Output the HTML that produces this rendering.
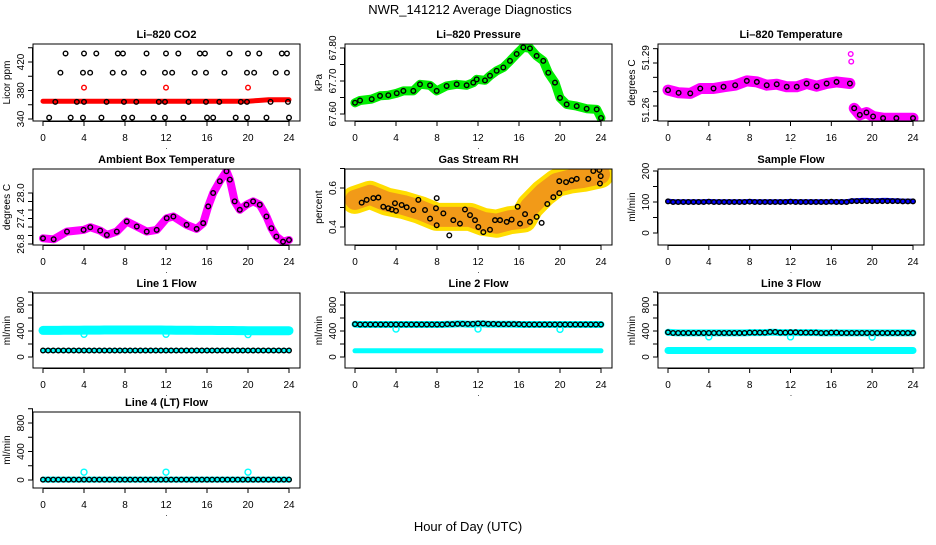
<!DOCTYPE html>
<html><head><meta charset="utf-8"><style>
html,body{margin:0;padding:0;background:#fff}
svg text{font-family:"Liberation Sans",Arial,sans-serif}
</style></head><body>
<svg id="chart" width="936" height="540" viewBox="0 0 936 540" xmlns="http://www.w3.org/2000/svg"></svg>
<script>
// ---- data ----
const hourTicks=[0,4,8,12,16,20,24];
// CO2
const co2BlackHours=[2.2,4.0,5.2,7.3,7.8,10.1,12.0,13.2,15.3,15.8,18.2,20.0,21.1,23.3,23.8, 1.7,3.9,4.6,6.8,7.9,9.8,11.9,12.6,14.8,15.9,17.7,19.9,20.6,22.7,23.8, 1.2,3.3,4.0,6.2,7.9,9.1,11.3,11.9,14.2,15.9,17.2,19.3,19.9,22.2,23.9, 0.6,2.7,3.9,5.7,7.9,8.7,10.8,11.9,13.7,16.0,16.6,18.8,19.9,21.8,24.0];
const co2BlackValues=[432,432,432,432,432,432,432,432,432,432,432,432,432,432,432, 405,405,405,405,405,405,405,405,405,405,405,405,405,405,405, 364,364,364,364,364,364,364,364,364,364,364,364,364,364,364, 342,342,342,342,342,342,342,342,342,342,342,342,342,342,342];
const co2RedHours=[0,4,8,12,16,20,21,22,23,24];
const co2RedValues=[365,365,365,365,365,365,366,367,367,367];
const co2OutHours=[4,12,20];
const co2OutValues=[384,384,384];
// Pressure
const presHours=[0,0.49,1.63,2.44,3.25,4.07,4.72,5.69,6.34,7.32,7.97,8.94,9.92,10.89,11.54,11.87,12.68,13.17,13.82,14.47,15.12,15.77,16.42,17.07,17.72,18.37,18.86,19.51,20.0,20.65,21.63,22.6,23.58,24];
const presValues=[67.634,67.641,67.645,67.655,67.657,67.663,67.670,67.670,67.690,67.687,67.670,67.685,67.690,67.687,67.695,67.705,67.702,67.716,67.731,67.741,67.761,67.782,67.802,67.799,67.776,67.761,67.725,67.695,67.649,67.629,67.624,67.616,67.614,67.588];
// Li-820 temperature
const ltHours=[0,1.04,2.18,3.16,4.46,5.44,6.58,7.72,8.7,9.67,10.65,11.63,12.61,13.58,14.56,15.54,16.51,17.82,null,18.24,18.79,19.44,20.09,21.07,22.37,24];
const ltValues=[51.2711,51.2692,51.2688,51.2722,51.2722,51.2734,51.2745,51.2775,51.2768,51.2745,51.2752,51.2734,51.2734,51.2757,51.2738,51.2757,51.2768,51.2757,null,51.2584,51.2538,51.2555,51.2527,51.2515,51.2515,51.2515];
const ltOutHours=[17.9,17.95];
const ltOutValues=[51.2963,51.2910];
// Ambient box temperature
const ambHours=[0,1.04,2.34,3.96,4.61,5.58,6.23,7.2,8.17,9.15,10.12,11.09,12.07,12.72,14.01,14.99,15.63,16.12,16.6,17.25,17.9,18.23,18.7,19.2,19.85,20.5,21.15,21.8,22.28,22.77,23.42,24];
const ambValues=[26.934,26.911,27.092,27.132,27.195,27.116,27.013,27.092,27.329,27.211,27.092,27.132,27.408,27.447,27.250,27.155,27.290,27.684,28.0,28.276,28.513,28.316,27.803,27.605,27.724,27.803,27.724,27.447,27.171,26.974,26.855,26.895];
// Gas stream RH
const rhHours=[0,1.46,3.09,4.72,6.34,7.97,9.59,11.22,12.52,13.82,15.12,16.42,17.07,18.37,19.67,20.98,22.28,23.9];
const rhValues=[0.539,0.565,0.530,0.513,0.487,0.452,0.452,0.452,0.426,0.417,0.435,0.443,0.504,0.574,0.626,0.643,0.652,0.670];
const rhPtHours=[0.65,1.14,1.79,2.28,2.76,3.25,3.58,3.9,4.0,4.55,5.04,5.69,6.18,6.83,7.32,7.9,7.97,7.97,8.62,9.2,9.59,10.24,10.73,11.22,11.71,12.03,12.52,13.17,13.66,14.15,14.8,15.28,15.87,16.1,16.59,17.07,17.72,18.21,18.76,19.35,19.93,19.93,20.59,21.14,21.63,22.76,23.25,23.84,23.97,23.9];
const rhPtValues=[0.525,0.539,0.548,0.551,0.504,0.496,0.490,0.522,0.483,0.513,0.501,0.487,0.539,0.487,0.443,0.496,0.409,0.548,0.470,0.357,0.435,0.417,0.490,0.461,0.435,0.400,0.374,0.386,0.435,0.435,0.426,0.438,0.504,0.417,0.466,0.426,0.452,0.421,0.518,0.553,0.574,0.635,0.630,0.640,0.647,0.647,0.687,0.692,0.661,0.623];
// flows (half-hourly)
const sampleBlue=[103,101,101,101,101,101,101,101,102,101,101,101,101,101,101,101,102,101,101,101,101,101,101,101,102,101,101,101,101,101,101,101,101,101,101,101,104,104,105,105,104,104,105,105,104,104,103,103,103];
const sampleBlack=[102,100,100,100,100,100,100,100,101,100,100,100,100,100,100,100,101,100,100,100,100,100,100,100,101,100,100,100,100,100,100,100,101,100,100,100,103,103,103,103,103,103,103,103,103,103,102,102,102];
const l1Upper=[410,410,410,410,412,412,412,412,414,414,414,414,415,415,415,415,416,416,416,416,416,416,415,415,414,414,412,412,411,411,410,410,410,410,408,408,407,407,406,406,405,405,405,405,405,405,405,405,405];
const l1Lower=[100,100,100,100,100,100,100,100,100,100,100,100,100,100,100,100,100,100,100,100,100,100,100,100,100,100,100,100,100,100,100,100,100,100,100,100,100,100,100,100,100,100,100,100,100,100,100,100,100];
const l1Black=[100,100,100,100,100,100,100,100,100,100,100,100,100,100,100,100,100,100,100,100,100,100,100,100,100,100,100,100,100,100,100,100,100,100,100,100,100,100,100,100,100,100,100,100,100,100,100,100,100];
const l1OutHours=[4,12,20];
const l1OutValues=[350,350,345];
const l2Upper=[505,500,500,500,500,500,500,500,500,500,500,500,500,500,500,500,500,500,505,505,510,510,505,505,510,510,505,505,505,505,505,505,500,500,500,500,500,500,500,500,500,500,500,500,500,500,500,500,500];
const l2Black=[505,500,500,500,500,500,500,500,500,500,500,500,500,500,500,500,500,500,505,505,510,510,510,510,515,515,510,510,505,505,505,505,505,500,500,500,500,500,500,500,500,500,500,500,500,500,500,500,500];
const l2Lower=[95,95,95,95,95,95,95,95,95,95,95,95,95,95,95,95,95,95,95,95,95,95,95,95,95,95,95,95,95,95,95,95,95,95,95,95,95,95,95,95,95,95,95,95,95,95,95,95,95];
const l2OutHours=[4,12,20];
const l2OutValues=[430,430,425];
const l3Upper=[380,375,370,370,370,370,370,370,370,370,370,370,370,370,370,370,375,375,375,375,380,380,375,375,375,375,375,375,375,375,370,370,370,370,370,370,370,370,370,370,370,370,370,370,370,370,370,370,370];
const l3Black=[380,370,370,370,370,370,370,370,370,370,370,370,370,370,370,370,375,375,375,375,385,385,375,375,380,380,375,375,375,375,370,370,375,375,370,370,370,370,370,370,370,370,370,370,370,370,370,370,370];
const l3Lower=[100,100,100,100,100,100,100,100,100,100,100,100,100,100,100,100,100,100,100,100,100,100,100,100,100,100,100,100,100,100,100,100,100,100,100,100,100,100,100,100,100,100,100,100,100,100,100,100,100];
const l3OutHours=[4,12,20];
const l3OutValues=[310,310,305];
const l4Black=[5,5,5,5,5,5,5,5,5,5,5,5,5,5,5,5,5,5,5,5,5,5,5,5,5,5,5,5,5,5,5,5,5,5,5,5,5,5,5,5,5,5,5,5,5,5,5,5,5];
const l4OutHours=[4,12,20];
const l4OutValues=[110,110,110];

// ---- rendering ----
const NS="http://www.w3.org/2000/svg";
const svg=document.getElementById('chart');
function mk(tag,attrs,parent){const e=document.createElementNS(NS,tag);for(const k in attrs)e.setAttribute(k,attrs[k]);(parent||svg).appendChild(e);return e;}
const cols=[[33,300],[345,612],[658,924]];
const rows=[[44,121],[169,245],[293,368],[412,488]];
function panel(name,title,ci,ri,v1,p1,v2,p2,ticks,labels,labelPos,ylab){
  const [x0,x1]=cols[ci],[y0,y1]=rows[ri];
  const g=mk('g',{});
  
  
  const P={g,x0,x1,y0,y1,
    x:h=>x0+10+h*(x1-x0-21)/24,
    y:v=>p1+(v-v1)*(p2-p1)/(v2-v1)};
  const clip='c'+name;
  const cp=mk('clipPath',{id:clip},g);mk('rect',{x:x0,y:y0,width:x1-x0,height:y1-y0},cp);
  P.d=mk('g',{'clip-path':'url(#'+clip+')'},g);
  const box=mk('rect',{x:x0,y:y0,width:x1-x0,height:y1-y0,fill:'none',stroke:'#000','stroke-width':1},g);
  
  
  const t=mk('text',{x:(x0+x1)/2,y:y0-6,'text-anchor':'middle','font-size':'11','font-weight':'bold'},g);t.textContent=title;
  
  
  // x axis
  const xa=mk('g',{},g);
  
  
  mk('line',{x1:P.x(0),x2:P.x(24),y1:y1+0.5,y2:y1+0.5,stroke:'#000'},xa);
  hourTicks.forEach(h=>{mk('line',{x1:P.x(h),x2:P.x(h),y1:y1,y2:y1+5,stroke:'#000'},xa);
    const tl=mk('text',{x:P.x(h),y:y1+20,'text-anchor':'middle','font-size':'10'},xa);tl.textContent=h;});
  const dot=mk('text',{x:(x0+x1)/2,y:y1+28,'text-anchor':'middle','font-size':'8'},xa);dot.textContent='.';
  // y axis
  const ya=mk('g',{},g);
  
  
  mk('line',{x1:x0-0.5,x2:x0-0.5,y1:P.y(ticks[0]),y2:P.y(ticks[ticks.length-1]),stroke:'#000'},ya);
  ticks.forEach(v=>mk('line',{x1:x0-5,x2:x0,y1:P.y(v),y2:P.y(v),stroke:'#000'},ya));
  labels.forEach((s,i)=>{const yy=P.y(labelPos[i]);const tl=mk('text',{x:x0-9,y:yy,'text-anchor':'middle','font-size':'10',transform:`rotate(-90 ${x0-9} ${yy})`},ya);tl.textContent=s;});
  const yc=(y0+y1)/2;
  const yl=mk('text',{x:x0-23,y:yc,'text-anchor':'middle','font-size':'10',transform:`rotate(-90 ${x0-23} ${yc})`},ya);yl.textContent=ylab;
  
  
  return P;
}
function band(P,hs,vs,color,w,name){
  let d='',pen=false;
  for(let i=0;i<vs.length;i++){const h=hs?hs[i]:i*0.5,v=vs[i];
    if(v===null||h===null){pen=false;continue;}
    d+=(pen?'L':'M')+P.x(h).toFixed(1)+' '+P.y(v).toFixed(1);pen=true;}
  const p=mk('path',{d,fill:'none',stroke:color,'stroke-width':w,'stroke-linecap':'round','stroke-linejoin':'round'},P.d);
  
  
}
function pts(P,hs,vs,color,name,r){
  const g=mk('g',{},P.d);
  
  
  for(let i=0;i<vs.length;i++){const h=hs?hs[i]:i*0.5,v=vs[i];if(v===null||h===null)continue;
    mk('circle',{cx:P.x(h),cy:P.y(v),r:r||2.3,fill:'none',stroke:color,'stroke-width':1.4},g);}
}
// CO2
let P=panel('co2-panel','Li\u2013820 CO2',0,0,340,119,420,62,[340,360,380,400,420,440],['340','380','420'],[340,380,420],'Licor ppm');
band(P,co2RedHours,co2RedValues,'#ff0000',5,'co2-red-series');
pts(P,co2OutHours,co2OutValues,'#ff0000','co2-red-outliers');
pts(P,co2BlackHours,co2BlackValues,'#000','co2-black-points');
// Pressure
P=panel('pressure-panel','Li\u2013820 Pressure',1,0,67.60,114,67.80,48,[67.60,67.65,67.70,67.75,67.80],['67.60','67.70','67.80'],[67.60,67.70,67.80],'kPa');
band(P,presHours,presValues,'#00ee00',9,'pressure-green-series');
pts(P,presHours,presValues,'#000','pressure-black-points');
// Li temp
P=panel('li-temp-panel','Li\u2013820 Temperature',2,0,51.26,106,51.29,63,[51.25,51.26,51.27,51.28,51.29,51.30],['51.26','51.29'],[51.2572,51.2937],'degrees C');
band(P,ltHours,ltValues,'#ff00ff',11,'li-temp-pink-series');
pts(P,ltOutHours,ltOutValues,'#ff00ff','li-temp-outliers');
pts(P,ltHours,ltValues,'#000','li-temp-black-points');
// Ambient
P=panel('ambient-panel','Ambient Box Temperature',0,1,26.8,244,28.0,193,[26.8,27.0,27.2,27.4,27.6,27.8,28.0],['26.8','27.4','28.0'],[26.8,27.4,28.0],'degrees C');
band(P,ambHours,ambValues,'#ff00ff',8,'ambient-pink-series');
pts(P,ambHours,ambValues,'#000','ambient-black-points');
// RH
P=panel('rh-panel','Gas Stream RH',1,1,0.4,227,0.6,188,[0.4,0.5,0.6,0.7],['0.4','0.6'],[0.4,0.6],'percent');
band(P,rhHours,rhValues,'#ffdd00',28,'rh-yellow-band');
band(P,rhHours,rhValues,'#f29a18',20,'rh-orange-band');
pts(P,rhPtHours,rhPtValues,'#000','rh-black-points');
// Sample flow
P=panel('sample-flow-panel','Sample Flow',2,1,0,233,200,171,[0,50,100,150,200],['0','100','200'],[0,100,200],'ml/min');
band(P,null,sampleBlue,'#0000ff',5,'sample-blue-series');
pts(P,null,sampleBlack,'#000','sample-black-points');
// Line 1
P=panel('line1-panel','Line 1 Flow',0,2,0,357,800,305,[0,200,400,600,800,1000],['0','400','800'],[0,400,800],'ml/min');
band(P,null,l1Upper,'#00ffff',9,'line1-upper-series');
pts(P,l1OutHours,l1OutValues,'#00ffff','line1-outliers',3);
band(P,null,l1Lower,'#00ffff',5,'line1-lower-series');
pts(P,null,l1Black,'#000','line1-black-points');
// Line 2
P=panel('line2-panel','Line 2 Flow',1,2,0,357,800,305,[0,200,400,600,800,1000],['0','400','800'],[0,400,800],'ml/min');
band(P,null,l2Upper,'#00ffff',7,'line2-upper-series');
pts(P,l2OutHours,l2OutValues,'#00ffff','line2-outliers',3);
band(P,null,l2Lower,'#00ffff',5,'line2-lower-series');
pts(P,null,l2Black,'#000','line2-black-points');
// Line 3
P=panel('line3-panel','Line 3 Flow',2,2,0,357,800,305,[0,200,400,600,800,1000],['0','400','800'],[0,400,800],'ml/min');
band(P,null,l3Upper,'#00ffff',7,'line3-upper-series');
pts(P,l3OutHours,l3OutValues,'#00ffff','line3-outliers',3);
band(P,null,l3Lower,'#00ffff',7,'line3-lower-series');
pts(P,null,l3Black,'#000','line3-black-points');
// Line 4
P=panel('line4-panel','Line 4 (LT) Flow',0,3,0,480,800,423,[0,200,400,600,800,1000],['0','400','800'],[0,400,800],'ml/min');
band(P,null,l4Black,'#00ffff',6,'line4-cyan-series');
pts(P,l4OutHours,l4OutValues,'#00ffff','line4-outliers',3);
pts(P,null,l4Black,'#000','line4-black-points');
// global labels
let t=mk('text',{x:470,y:14,'text-anchor':'middle','font-size':'13'});t.textContent='NWR_141212  Average Diagnostics';


t=mk('text',{x:468,y:531,'text-anchor':'middle','font-size':'13'});t.textContent='Hour of Day (UTC)';


</script>
</body></html>
